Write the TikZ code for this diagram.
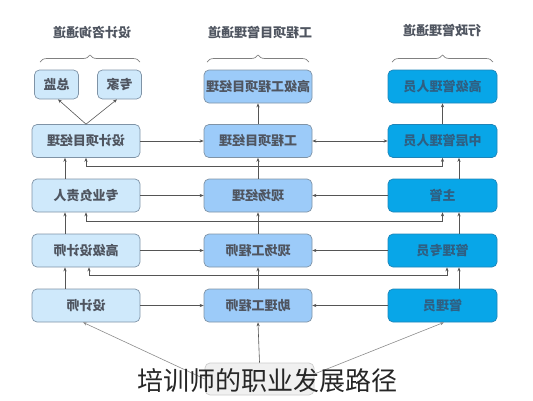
\documentclass[tikz,border=0pt]{standalone}
\usepackage{fontspec}
\usepackage{graphicx}
\setmainfont{Noto Sans CJK SC}
\newfontfamily\cjkb{Noto Sans CJK SC}
\usetikzlibrary{arrows.meta,decorations.pathreplacing}
\definecolor{lfill}{HTML}{CFE9FB}
\definecolor{mfill}{HTML}{9CCBF9}
\definecolor{rfill}{HTML}{08A6E8}
\definecolor{bord}{HTML}{7F93A6}
\definecolor{rbord}{HTML}{1E84B8}
\definecolor{txt}{HTML}{4F5560}
\definecolor{rtxt}{HTML}{2F5F82}
\definecolor{lin}{HTML}{555555}
\tikzset{
  boxL/.style={draw=bord, line width=0.7pt, fill=lfill, rounded corners=5pt, minimum width=108pt, minimum height=33pt, inner sep=0pt, font=\fontsize{13}{13}\selectfont\bfseries, text=txt},
  boxM/.style={boxL, fill=mfill},
  boxR/.style={boxL, fill=rfill, draw=rbord, minimum width=109pt, text=rtxt},
  boxS/.style={boxL, minimum width=44pt, minimum height=29pt},
  boxB/.style={draw=black!20, line width=0.7pt, fill=black!6, rounded corners=5pt, minimum width=109pt, minimum height=32pt},
  heading/.style={font=\fontsize{13}{13}\selectfont\bfseries, text=txt},
  arr/.style={draw=lin, line width=0.6pt, -{Stealth[length=4pt,width=3.2pt]}},
  darr/.style={draw=lin, line width=0.6pt, {Stealth[length=4pt,width=3.2pt]}-{Stealth[length=4pt,width=3.2pt]}},
  garr/.style={draw=black!45, line width=0.6pt, -{Stealth[length=4pt,width=3.2pt]}},
  brc/.style={draw=black!50, line width=0.7pt, decorate, decoration={brace, amplitude=7pt}},
}
\newcommand{\mir}[1]{\reflectbox{#1}}
\begin{document}
\begin{tikzpicture}[x=1pt,y=-1pt]
\useasboundingbox (0,0) rectangle (533,400);
% headings
\node[heading] (h1) at (92,33) {\mir{设计咨询通道}};
\node[heading] (h2) at (260,33) {\mir{工程项目管理通道}};
\node[heading] (h3) at (442,31) {\mir{行政管理通道}};
\draw[brc] (40,62) -- (140,62);
\draw[brc] (207,62) -- (309,62);
\draw[brc] (392,62) -- (493,62);
% left column
\node[boxS] (Z) at (56.5,84.5) {\mir{总监}};
\node[boxS] (E) at (119.5,84.5) {\mir{专家}};
\node[boxL] (L1) at (86,141) {\mir{设计项目经理}};
\node[boxL] (L2) at (86,195.5) {\mir{专业负责人}};
\node[boxL] (L3) at (86,250.5) {\mir{高级设计师}};
\node[boxL] (L4) at (86,305.5) {\mir{设计师}};
% middle column
\node[boxM] (M0) at (258,86.5) {\mir{高级工程项目经理}};
\node[boxM] (M1) at (258,141) {\mir{工程项目经理}};
\node[boxM] (M2) at (258,195.5) {\mir{现场经理}};
\node[boxM] (M3) at (258,250.5) {\mir{现场工程师}};
\node[boxM] (M4) at (258,305.5) {\mir{助理工程师}};
% right column
\node[boxR] (R0) at (442.5,86.5) {\mir{高级管理人员}};
\node[boxR] (R1) at (442.5,141) {\mir{中层管理人员}};
\node[boxR] (R2) at (442.5,195.5) {\mir{主管}};
\node[boxR] (R3) at (442.5,250.5) {\mir{管理专员}};
\node[boxR] (R4) at (442.5,305.5) {\mir{管理员}};
% bottom box
\node[boxB] (B) at (259.5,379) {};
% left column connectors
\draw[arr] (L1.north) -- ([xshift=1.5pt]Z.south);
\draw[arr] (L1.north) -- ([xshift=-2.5pt]E.south);
\draw[arr] ([xshift=-21pt]L4.north) -- ([xshift=-21pt]L3.south);
\draw[arr] ([xshift=-21pt]L3.north) -- ([xshift=-21pt]L2.south);
\draw[arr] ([xshift=-21pt]L2.north) -- ([xshift=-21pt]L1.south);
% middle column
\draw[arr] (M4.north) -- (M3.south);
\draw[arr] (M3.north) -- (M2.south);
\draw[arr] (M2.north) -- (M1.south);
\draw[arr] (M1.north) -- (M0.south);
% right column
\draw[arr] (R1.north) -- (R0.south);
\draw[arr] ([xshift=16.5pt]R2.north) -- ([xshift=16.5pt]R1.south);
\draw[arr] ([xshift=16.5pt]R3.north) -- ([xshift=16.5pt]R2.south);
\draw[arr] ([xshift=16.5pt]R4.north) -- ([xshift=16.5pt]R3.south);
% horizontal
\draw[arr] (L1.east) -- (M1.west);
\draw[arr] (L2.east) -- (M2.west);
\draw[arr] (L3.east) -- (M3.west);
\draw[arr] (L4.east) -- (M4.west);
\draw[darr] (R1.west) -- (M1.east);
\draw[arr] (R2.west) -- (M2.east);
\draw[arr] (R3.west) -- (M3.east);
\draw[arr] (R4.west) -- (M4.east);
% long cross lines
\draw[darr] (L1.south) -- ++(0,8) -| (R1.south);
\draw[darr] (L2.south) -- ++(0,9) -| (R2.south);
\draw[darr] ([xshift=3pt]L3.south) -- ++(0,8) -| ([xshift=4.5pt]R3.south);
% bottom connectors
\draw[arr] (B.north) -- (M4.south);
\draw[garr] ([yshift=0pt]B.west) -- ([xshift=-3pt]L4.south);
\draw[garr] ([yshift=5pt]B.east) -- ([xshift=1.5pt]R4.south);
% caption
\node[font=\fontsize{26}{26}\selectfont, text=black!85] (cap) at (267.5,381) {培训师的职业发展路径};
\end{tikzpicture}
\end{document}
